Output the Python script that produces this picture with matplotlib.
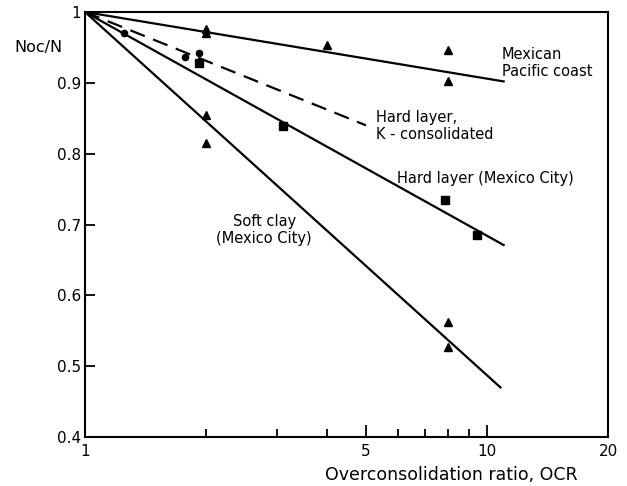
import matplotlib
matplotlib.use("Agg")
import matplotlib.pyplot as plt
from matplotlib.ticker import FixedLocator, FixedFormatter, NullFormatter

plt.rcParams["font.family"] = ["DejaVu Sans"]

# fitted lines: start at OCR=1, Noc/N=1
pacific_x = [1, 11]
pacific_y = [1.0, 0.902]
hard_k_x = [1, 5.0]
hard_k_y = [1.0, 0.84]
hard_x = [1, 11]
hard_y = [1.0, 0.671]
soft_x = [1, 10.8]
soft_y = [1.0, 0.47]

# measured points
tri_x = [2.0, 2.0, 4.0, 8.0, 8.0, 2.0, 2.0, 8.0, 8.0]
tri_y = [0.976, 0.970, 0.953, 0.947, 0.903, 0.855, 0.815, 0.562, 0.527]
sq_x = [1.92, 3.1, 7.85, 9.45]
sq_y = [0.928, 0.839, 0.734, 0.685]
circ_x = [1.25, 1.77, 1.92]
circ_y = [0.970, 0.937, 0.942]

xticks_major = [1, 5, 10, 20]
xtick_labels = ["1", "5", "10", "20"]
xticks_minor = [2, 3, 4, 6, 7, 8, 9]
yticks = [0.4, 0.5, 0.6, 0.7, 0.8, 0.9, 1.0]
ytick_labels = ["0.4", "0.5", "0.6", "0.7", "0.8", "0.9", "1"]

fig = plt.figure(figsize=(6.27, 4.86), dpi=100)
ax = fig.add_axes([85 / 627, 1 - 437 / 486, 523 / 627, 425 / 486])

ax.plot(pacific_x, pacific_y, color="black", lw=1.6)
ax.plot(hard_k_x, hard_k_y, color="black", lw=1.6, dashes=(7, 4))
ax.plot(hard_x, hard_y, color="black", lw=1.6)
ax.plot(soft_x, soft_y, color="black", lw=1.6)

ax.plot(tri_x, tri_y, "^", color="black", ms=6, ls="none")
ax.plot(sq_x, sq_y, "s", color="black", ms=6, ls="none")
ax.plot(circ_x, circ_y, "o", color="black", ms=4.5, ls="none")

ax.set_xscale("log")
ax.set_xlim(1, 20)
ax.set_ylim(0.4, 1.0)

ax.xaxis.set_major_locator(FixedLocator(xticks_major))
ax.xaxis.set_major_formatter(FixedFormatter(xtick_labels))
ax.xaxis.set_minor_locator(FixedLocator(xticks_minor))
ax.xaxis.set_minor_formatter(NullFormatter())
ax.set_yticks(yticks)
ax.set_yticklabels(ytick_labels)

ax.tick_params(axis="x", which="major", direction="in", length=8.5, width=1.3,
               labelsize=11, pad=5)
ax.tick_params(axis="x", which="minor", direction="in", length=6, width=1.3)
ax.tick_params(axis="y", direction="in", length=7, width=1.3, labelsize=11, pad=3)
for sp in ax.spines.values():
    sp.set_linewidth(1.5)

ax.text(10.9, 0.950, "Mexican\nPacific coast", fontsize=10.5, va="top",
        ha="left", linespacing=1.15)
ax.text(5.3, 0.862, "Hard layer,\nK - consolidated", fontsize=10.5, va="top",
        ha="left", linespacing=1.15)
ax.text(5.97, 0.7655, "Hard layer (Mexico City)", fontsize=10.5, va="center",
        ha="left")
ax.text(2.79, 0.692, "Soft clay\n(Mexico City)", fontsize=10.5, va="center",
        ha="center", linespacing=1.15)

ax.set_xlabel("Overconsolidation ratio, OCR", fontsize=12.5)
ax.xaxis.set_label_coords(0.70, -0.068)
fig.text(14 / 627, 1 - 47 / 486, "Noc/N", fontsize=11.5, va="center", ha="left")

fig.savefig("out.png", dpi=100, facecolor="white")
